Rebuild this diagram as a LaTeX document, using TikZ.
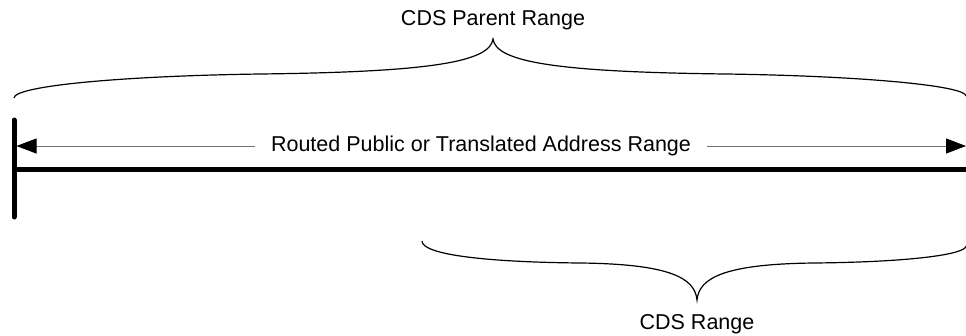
\documentclass[tikz,border=0pt]{standalone}
\usepackage{fontspec}
\setmainfont{Liberation Sans}
\usetikzlibrary{arrows.meta}
\begin{document}
\begin{tikzpicture}[x=1pt,y=-1pt,
  label/.style={font=\fontsize{21.5}{24}\selectfont, inner sep=0pt},
  bar/.style={line width=5pt, line cap=round},
  span/.style={draw=black!55, line width=1pt, -{Triangle[length=20pt,width=15pt,fill=black,color=black]}},
  brace/.style={line width=1.2pt}]
\useasboundingbox (0,0) rectangle (966,335);

% range boundary marks
\coordinate (barTop) at (14,120);
\coordinate (barBot) at (14,217);
\coordinate (lineL) at (14,169);
\coordinate (lineR) at (968,169);
\draw[bar] (barTop) -- (barBot);
\draw[line width=5pt] (lineL) -- (lineR);

% double-headed span with its label
\coordinate (spanL) at (16.5,146);
\coordinate (spanR) at (966,146);
\node[label, inner xsep=16pt] (routed) at (481,146) {Routed Public or Translated Address Range};
\draw[span] (routed.west) -- (spanL);
\draw[span] (routed.east) -- (spanR);

% upper brace
\node[label] (parent) at (493,20) {CDS Parent Range};
\draw[brace] (14,98) .. controls (14,86) and (120,76) .. (260,74)
  .. controls (430,72) and (490,62) .. (493,39)
  .. controls (496,62) and (556,72) .. (726,74)
  .. controls (866,76) and (966,86) .. (966,96);

% lower brace
\node[label] (cds) at (697,324) {CDS Range};
\draw[brace] (422,241) .. controls (422,254) and (480,262) .. (580,263)
  .. controls (670,264) and (695,278) .. (697,300)
  .. controls (699,278) and (724,264) .. (814,263)
  .. controls (914,262) and (966,254) .. (966,246);
\end{tikzpicture}
\end{document}
